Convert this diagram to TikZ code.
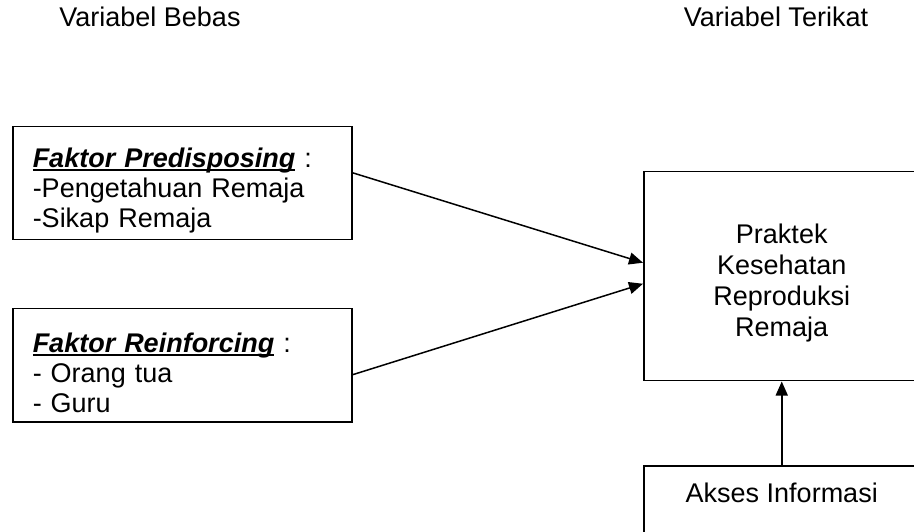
\documentclass[tikz,border=0pt]{standalone}
\usepackage{fontspec}
\setmainfont{Liberation Sans}
\usetikzlibrary{arrows.meta}
\tikzset{
    factorbox/.style={
        draw,
        line width=1.5pt,
        align=left,
        anchor=north west,
        text width=299pt,
        inner xsep=20pt,
        minimum height=113pt,
        font=\fontsize{27}{30}\selectfont
    },
    targetbox/.style={
        draw,
        line width=1.5pt,
        align=center,
        anchor=north west,
        minimum width=276pt,
        font=\fontsize{27}{31}\selectfont
    },
    heading/.style={font=\fontsize{27}{30}\selectfont},
    flow/.style={-{Triangle[length=14pt,width=12pt]}, line width=1.5pt}
}
\newcommand{\faktorul}[1]{\setbox0\hbox{\textbf{\textit{#1}}}\rlap{\rule[-4pt]{\wd0}{2.5pt}}\box0\relax}
\newcommand{\topgap}{\rule{0pt}{34pt}}

\begin{document}
\begin{tikzpicture}[x=1pt,y=1pt]
    \clip (0,0) rectangle (914,531);
    \node[heading] (bebas) at (150,514) {Variabel Bebas};
    \node[heading] (terikat) at (776,514) {Variabel Terikat};

    \node[factorbox] (predis) at (12,405) {\topgap\faktorul{Faktor Predisposing} :\\-Pengetahuan Remaja\\-Sikap Remaja};
    \node[factorbox] (reinf) at (12,223) {\topgap\faktorul{Faktor Reinforcing} :\\- Orang tua\\- Guru};
    \node[targetbox, minimum height=209pt] (praktek) at (643,360) {\topgap Praktek\\Kesehatan\\Reproduksi\\Remaja};
    \node[targetbox, text height=20pt, text depth=50pt, inner ysep=17pt] (akses) at (643,66) {Akses Informasi};

    \draw[flow] ([yshift=10.5pt]predis.east) -- ([yshift=13.5pt]praktek.west);
    \draw[flow] ([yshift=-9.5pt]reinf.east) -- ([yshift=-7.5pt]praktek.west);
    \draw[flow] (akses.north) -- (praktek.south);
\end{tikzpicture}
\end{document}
